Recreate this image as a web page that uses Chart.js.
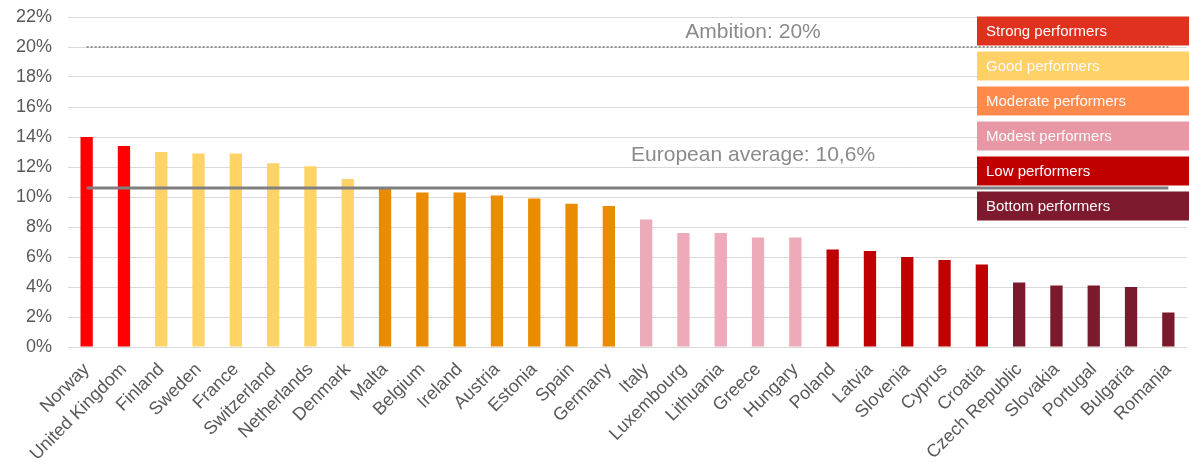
<!DOCTYPE html>
<html>
<head>
<meta charset="utf-8">
<script src="https://cdn.jsdelivr.net/npm/chart.js@4/dist/chart.umd.min.js"></script>
<style>
  html, body { margin: 0; padding: 0; background: #ffffff; }
  #wrap { width: 1189px; height: 462px; position: relative; }
</style>
</head>
<body>
<div id="wrap"><canvas id="c" width="1189" height="462"></canvas></div>
<script>
const categories = ["Norway", "United Kingdom", "Finland", "Sweden", "France", "Switzerland", "Netherlands", "Denmark", "Malta", "Belgium", "Ireland", "Austria", "Estonia", "Spain", "Germany", "Italy", "Luxembourg", "Lithuania", "Greece", "Hungary", "Poland", "Latvia", "Slovenia", "Cyprus", "Croatia", "Czech Republic", "Slovakia", "Portugal", "Bulgaria", "Romania"];
const values = [14.0, 13.4, 13.0, 12.9, 12.9, 12.25, 12.05, 11.2, 10.6, 10.3, 10.3, 10.1, 9.9, 9.55, 9.4, 8.5, 7.6, 7.6, 7.3, 7.3, 6.5, 6.4, 6.0, 5.8, 5.5, 4.3, 4.1, 4.1, 4.0, 2.3];
const groups = ["Strong", "Strong", "Good", "Good", "Good", "Good", "Good", "Good", "Moderate", "Moderate", "Moderate", "Moderate", "Moderate", "Moderate", "Moderate", "Modest", "Modest", "Modest", "Modest", "Modest", "Low", "Low", "Low", "Low", "Low", "Bottom", "Bottom", "Bottom", "Bottom", "Bottom"];
const groupNames = ["Strong", "Good", "Moderate", "Modest", "Low", "Bottom"];
const barColors = ["#FF0000", "#FFD366", "#EA8C00", "#EDAAB8", "#C00000", "#7B1A2C"];
const legendLabels = ["Strong performers", "Good performers", "Moderate performers", "Modest performers", "Low performers", "Bottom performers"];
const legendColors = ["#E0301E", "#FFD166", "#FF8A4C", "#E898A5", "#C00000", "#7D1A2D"];
const ambitionValue = 20;
const averageValue = 10.6;
const ambitionLabel = "Ambition: 20%";
const averageLabel = "European average: 10,6%";
const yTicks = [0, 2, 4, 6, 8, 10, 12, 14, 16, 18, 20, 22];

const colorFor = g => barColors[groupNames.indexOf(g)];

const annotationPlugin = {
  id: 'annot',
  afterDatasetsDraw(chart) {
    const ctx = chart.ctx;
    const x = chart.scales.x, y = chart.scales.y;
    ctx.save();
    ctx.font = '21px "Liberation Sans", Arial, sans-serif';
    ctx.fillStyle = '#8a8a8a';
    ctx.textAlign = 'center';
    ctx.textBaseline = 'alphabetic';
    const cx = x.getPixelForValue(18) - 5;
    ctx.fillText(ambitionLabel, cx, y.getPixelForValue(ambitionValue) - 9);
    ctx.fillText(averageLabel, cx, y.getPixelForValue(averageValue) - 27);
    // legend boxes
    const bx = 977, bw = 212, bh = 29, top0 = 16.5, pitch = 35;
    ctx.font = '15px "Liberation Sans", Arial, sans-serif';
    ctx.textAlign = 'left';
    ctx.textBaseline = 'middle';
    legendLabels.forEach((lab, i) => {
      const by = top0 + i * pitch;
      ctx.fillStyle = legendColors[i];
      ctx.fillRect(bx, by, bw, bh);
      ctx.fillStyle = '#fbfbfb';
      ctx.fillText(lab, bx + 9, by + bh / 2 + 1);
    });
    ctx.restore();
  }
};

new Chart(document.getElementById('c'), {
  type: 'bar',
  data: {
    labels: categories,
    datasets: [
      {
        type: 'line',
        data: categories.map(() => averageValue),
        borderColor: '#808080',
        borderWidth: 3,
        pointRadius: 0,
        order: 1
      },
      {
        type: 'line',
        data: categories.map(() => ambitionValue),
        borderColor: '#959595',
        borderWidth: 2,
        borderDash: [2, 2],
        pointRadius: 0,
        order: 1
      },
      {
        type: 'bar',
        data: values,
        backgroundColor: groups.map(colorFor),
        borderWidth: 0,
        barPercentage: 1,
        categoryPercentage: 0.33,
        order: 2
      }
    ]
  },
  options: {
    responsive: false,
    animation: false,
    events: [],
    layout: { padding: { top: 17, right: 2, left: 0, bottom: 0 } },
    plugins: { legend: { display: false }, tooltip: { enabled: false } },
    scales: {
      x: {
        grid: { display: false },
        border: { display: false },
        ticks: {
          color: '#595959',
          font: { family: '"Liberation Sans", Arial, sans-serif', size: 18 },
          minRotation: 45, maxRotation: 45, autoSkip: false, padding: 4
        },
        afterFit(scale) { scale.height = 462 - 347; scale.paddingTop = 0; }
      },
      y: {
        min: 0, max: 22,
        afterBuildTicks(scale) { scale.ticks = yTicks.map(v => ({ value: v })); },
        grid: { color: '#d9d9d9', lineWidth: 1, drawTicks: false },
        border: { display: false },
        ticks: {
          color: '#595959',
          padding: 16,
          font: { family: '"Liberation Sans", Arial, sans-serif', size: 18 },
          callback: v => v + '%'
        },
        afterFit(scale) { scale.width = 68; scale.paddingTop = 0; scale.paddingBottom = 0; }
      }
    }
  },
  plugins: [annotationPlugin]
});
</script>
</body>
</html>
